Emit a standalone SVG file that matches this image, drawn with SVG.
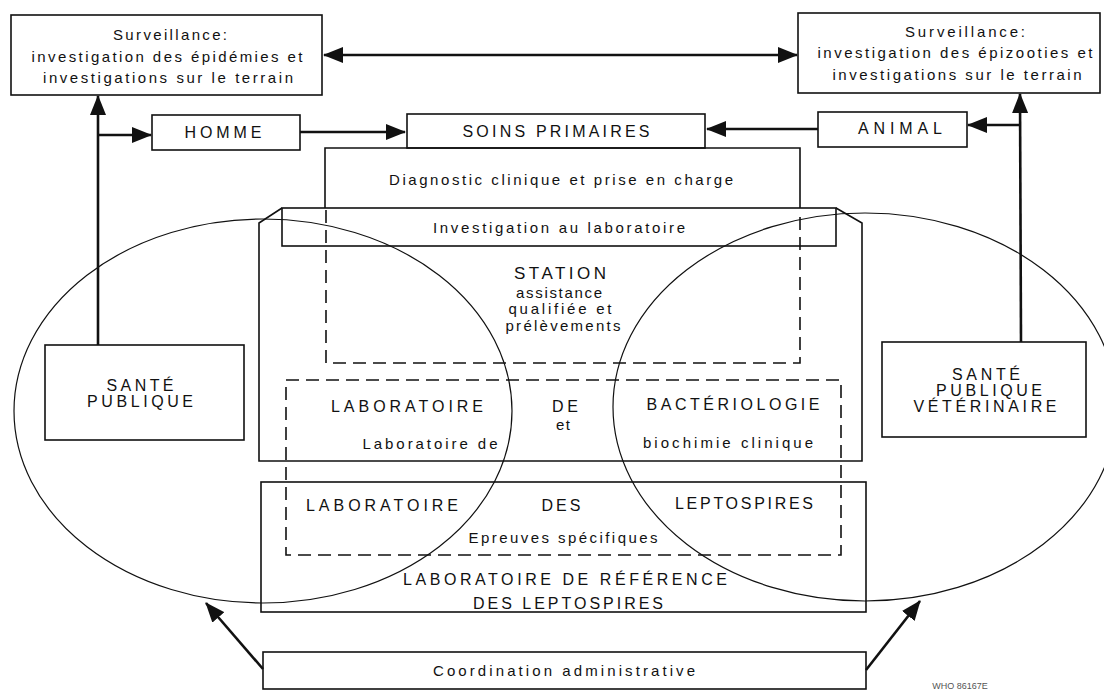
<svg xmlns="http://www.w3.org/2000/svg" width="1104" height="691" viewBox="0 0 1104 691">
<style>
  .box{fill:none;stroke:#111;stroke-width:1.6}
  .dash{fill:none;stroke:#111;stroke-width:1.6;stroke-dasharray:13 7}
  .ell{fill:none;stroke:#111;stroke-width:1.2}
  .con{fill:none;stroke:#111;stroke-width:2.6}
  text{font-family:"Liberation Sans",Arial,sans-serif;fill:#111;text-anchor:middle}
  .t{font-size:15px}
  .c{font-size:16px}
  .s17{font-size:17px}
  .small{font-size:9px;fill:#555}
</style>
<defs>
  <marker id="ah" markerUnits="userSpaceOnUse" markerWidth="20" markerHeight="16" viewBox="0 0 20 16" refX="19" refY="8" orient="auto-start-reverse">
    <path d="M0,0 L20,8 L0,16 Z" fill="#111"/>
  </marker>
</defs>
<rect width="1104" height="691" fill="#fff"/>

<g id="surveillance-homme">
  <rect class="box" x="11" y="15" width="311" height="80"/>
  <text class="t" x="170" y="40" textLength="114" lengthAdjust="spacing">Surveillance:</text>
  <text class="t" x="167" y="62" textLength="271" lengthAdjust="spacing">investigation des épidémies et</text>
  <text class="t" x="168" y="83" textLength="250" lengthAdjust="spacing">investigations sur le terrain</text>
</g>
<g id="surveillance-animal">
  <rect class="box" x="798" y="13" width="302" height="80"/>
  <text class="t" x="965" y="37" textLength="120" lengthAdjust="spacing">Surveillance:</text>
  <text class="t" x="955" y="58" textLength="275" lengthAdjust="spacing">investigation des épizooties et</text>
  <text class="t" x="957" y="80" textLength="249" lengthAdjust="spacing">investigations sur le terrain</text>
</g>
<g id="homme">
  <rect class="box" x="152" y="115" width="148" height="35"/>
  <text class="c" x="223" y="138" textLength="77" lengthAdjust="spacing">HOMME</text>
</g>
<g id="soins-primaires">
  <rect class="box" x="407" y="114" width="298" height="34"/>
  <text class="c" x="556" y="137" textLength="187" lengthAdjust="spacing">SOINS PRIMAIRES</text>
</g>
<g id="animal">
  <rect class="box" x="818" y="112" width="149" height="35"/>
  <text class="c" x="900" y="134" textLength="84" lengthAdjust="spacing">ANIMAL</text>
</g>
<g id="diagnostic">
  <path class="box" d="M325,208 V148 H800 V208"/>
  <text class="t" x="561" y="185" textLength="344" lengthAdjust="spacing">Diagnostic clinique et prise en charge</text>
</g>
<g id="investigation">
  <rect class="box" x="282" y="208" width="554" height="38"/>
  <text class="t" x="559" y="233" textLength="252" lengthAdjust="spacing">Investigation au laboratoire</text>
</g>
<g id="station">
  <path class="dash" d="M326,210 V363 H800 V210"/>
  <text class="s17" x="560" y="279" textLength="92" lengthAdjust="spacing">STATION</text>
  <text class="t" x="559" y="298" textLength="86" lengthAdjust="spacing">assistance</text>
  <text class="t" x="560" y="314" textLength="103" lengthAdjust="spacing">qualifiée et</text>
  <text class="t" x="563" y="331" textLength="115" lengthAdjust="spacing">prélèvements</text>
</g>
<g id="laboratoire-bacteriologie">
  <path class="box" d="M282,208 L259,223 V461 H862 V223 L836,208"/>
  <text class="c" x="407" y="412" textLength="152" lengthAdjust="spacing">LABORATOIRE</text>
  <text class="c" x="565" y="412" textLength="26" lengthAdjust="spacing">DE</text>
  <text class="c" x="733" y="410" textLength="173" lengthAdjust="spacing">BACTÉRIOLOGIE</text>
  <text class="t" x="563" y="430" textLength="14" lengthAdjust="spacing">et</text>
  <text class="t" x="430" y="449" textLength="135" lengthAdjust="spacing">Laboratoire de</text>
  <text class="t" x="728" y="448" textLength="170" lengthAdjust="spacing">biochimie clinique</text>
</g>
<g id="laboratoire-leptospires">
  <rect class="dash" x="286" y="380" width="555" height="175"/>
  <text class="c" x="382" y="511" textLength="152" lengthAdjust="spacing">LABORATOIRE</text>
  <text class="c" x="561" y="511" textLength="39" lengthAdjust="spacing">DES</text>
  <text class="c" x="744" y="509" textLength="138" lengthAdjust="spacing">LEPTOSPIRES</text>
  <text class="t" x="563" y="543" textLength="189" lengthAdjust="spacing">Epreuves spécifiques</text>
</g>
<g id="laboratoire-reference">
  <rect class="box" x="261" y="482" width="605" height="130"/>
  <text class="c" x="565" y="585" textLength="324" lengthAdjust="spacing">LABORATOIRE DE RÉFÉRENCE</text>
  <text class="c" x="568" y="609" textLength="190" lengthAdjust="spacing">DES LEPTOSPIRES</text>
</g>
<g id="sante-publique">
  <rect class="box" x="45" y="345" width="199" height="95"/>
  <text class="c" x="140" y="391" textLength="67" lengthAdjust="spacing">SANTÉ</text>
  <text class="c" x="140" y="407" textLength="106" lengthAdjust="spacing">PUBLIQUE</text>
</g>
<g id="sante-publique-veterinaire">
  <rect class="box" x="882" y="342" width="204" height="95"/>
  <text class="c" x="986" y="380" textLength="68" lengthAdjust="spacing">SANTÉ</text>
  <text class="c" x="989" y="396" textLength="106" lengthAdjust="spacing">PUBLIQUE</text>
  <text class="c" x="985" y="412" textLength="143" lengthAdjust="spacing">VÉTÉRINAIRE</text>
</g>
<g id="domaine-homme">
  <ellipse class="ell" cx="263" cy="411" rx="249" ry="192"/>
</g>
<g id="domaine-animal">
  <ellipse class="ell" cx="865" cy="407" rx="252" ry="194"/>
</g>
<g id="coordination">
  <rect class="box" x="263" y="652" width="603" height="37"/>
  <text class="t" x="564" y="676" textLength="262" lengthAdjust="spacing">Coordination  administrative</text>
</g>
<g id="reference">
  <text class="small" x="960" y="689">WHO 86167E</text>
</g>

<g id="connectors">
  <line class="con" x1="324" y1="55" x2="797" y2="55" marker-start="url(#ah)" marker-end="url(#ah)"/>
  <line class="con" x1="98" y1="345" x2="98" y2="96" marker-end="url(#ah)"/>
  <line class="con" x1="98" y1="135" x2="151" y2="135" marker-end="url(#ah)"/>
  <line class="con" x1="300" y1="132" x2="405" y2="132" marker-end="url(#ah)"/>
  <line class="con" x1="1021" y1="342" x2="1020" y2="94" marker-end="url(#ah)"/>
  <line class="con" x1="1020" y1="125" x2="968" y2="125" marker-end="url(#ah)"/>
  <line class="con" x1="818" y1="129" x2="707" y2="129" marker-end="url(#ah)"/>
  <line class="con" x1="263" y1="669" x2="206" y2="603" marker-end="url(#ah)"/>
  <line class="con" x1="866" y1="670" x2="920" y2="601" marker-end="url(#ah)"/>
</g>
</svg>
